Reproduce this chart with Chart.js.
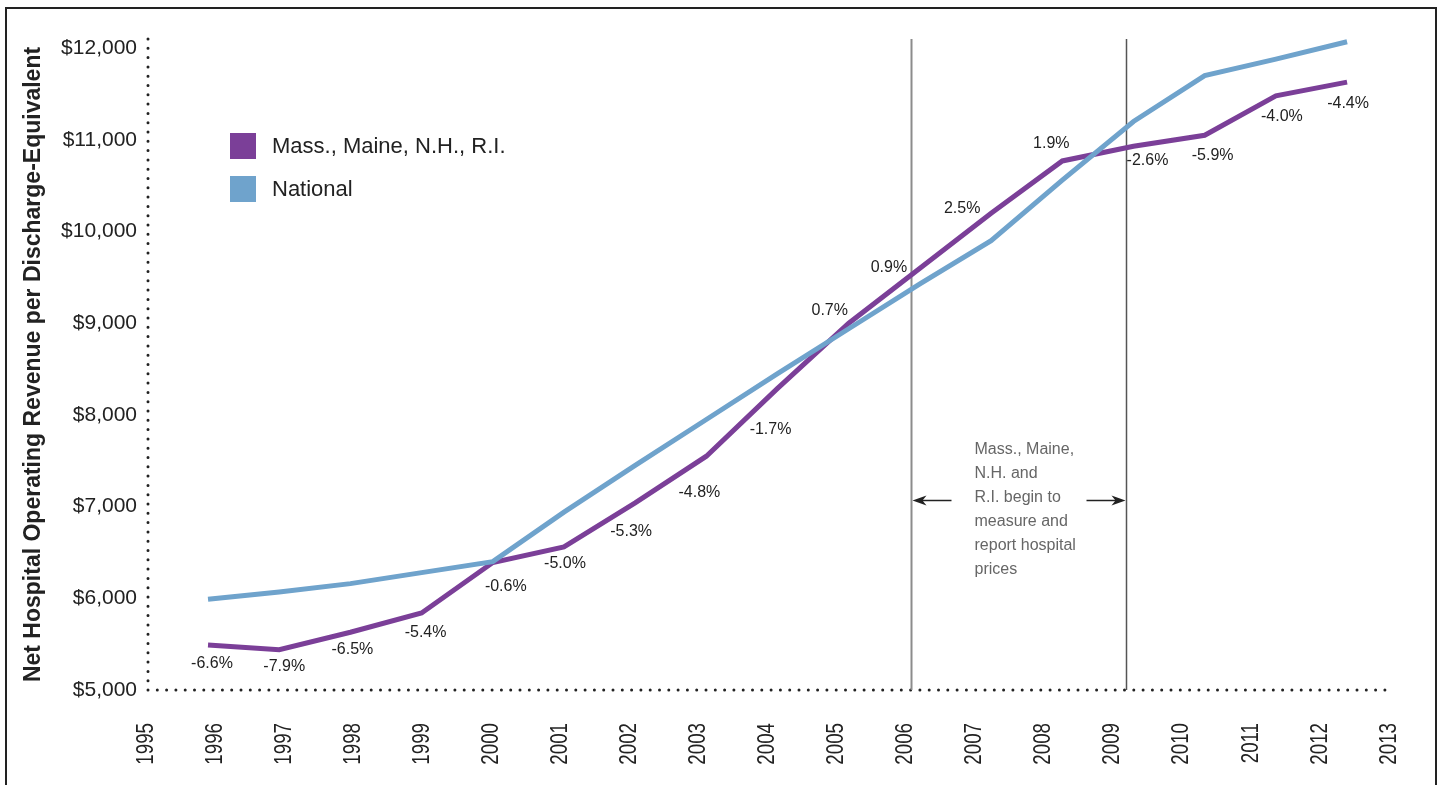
<!DOCTYPE html>
<html>
<head>
<meta charset="utf-8">
<script src="https://cdn.jsdelivr.net/npm/chart.js@4.4.1/dist/chart.umd.min.js"></script>
<style>
   html, body { margin: 0; padding: 0; background: #fff; }
   #wrap { position: relative; width: 1442px; height: 785px; overflow: hidden; }
   #frame {
      position: absolute; left: 5px; top: 7px; width: 1432px; height: 820px;
      border: 2px solid #222; box-sizing: border-box;
   }
   canvas { position: absolute; left: 0; top: 0; }
</style>
</head>
<body>
<div id="wrap">
   <div id="frame"></div>
   <canvas id="chart" width="1442" height="785"></canvas>
</div>
<script>
// data
const years = [1996, 1997, 1998, 1999, 2000, 2001, 2002, 2003, 2004, 2005, 2006, 2007, 2008, 2009, 2010, 2011, 2012];
const massMaineNhRi = [5490, 5440, 5630, 5840, 6390, 6560, 7040, 7550, 8290, 9000, 9600, 10200, 10770, 10930, 11050, 11480, 11630];
const national = [5990, 6070, 6160, 6280, 6400, 6940, 7450, 7950, 8450, 8940, 9430, 9900, 10560, 11200, 11700, 11880, 12070];
const pctGap = ["-6.6%", "-7.9%", "-6.5%", "-5.4%", "-0.6%", "-5.0%", "-5.3%", "-4.8%", "-1.7%", "0.7%", "0.9%", "2.5%", "1.9%", "-2.6%", "-5.9%", "-4.0%", "-4.4%"];
const tickYears = [1995, 1996, 1997, 1998, 1999, 2000, 2001, 2002, 2003, 2004, 2005, 2006, 2007, 2008, 2009, 2010, 2011, 2012, 2013];
const tickDollars = [5000, 6000, 7000, 8000, 9000, 10000, 11000, 12000];
const seriesNames = ["Mass., Maine, N.H., R.I.", "National"];
const markerYears = [2006.05, 2009.16];
const noteLines = ["Mass., Maine,", "N.H. and", "R.I. begin to", "measure and", "report hospital", "prices"];

// label nudges (px) relative to each purple point
const labelOffsets = [
   [4, 19], [5, 17], [2, 17], [4, 20], [13, 24], [1, 17], [-4, 29], [-7, 36], [-7, 41],
   [-19, -13], [-31, -1], [-29, -5], [-11, -17], [14, 14], [8, 20], [6, 21], [1, 21],
];

const PURPLE = "#7b3f98";
const BLUE = "#6fa3cc";
const INK = "#222";
const FONT = "'Liberation Sans', Arial, Helvetica, sans-serif";

const toPoints = (vals) => years.map((yr, i) => ({ x: yr, y: vals[i] }));

const drawArrow = (ctx, fromX, toX, y) => {
   const dir = Math.sign(toX - fromX);
   ctx.beginPath();
   ctx.moveTo(fromX, y);
   ctx.lineTo(toX - dir * 8, y);
   ctx.stroke();
   ctx.beginPath();
   ctx.moveTo(toX, y);
   ctx.lineTo(toX - dir * 14, y - 5);
   ctx.lineTo(toX - dir * 10, y);
   ctx.lineTo(toX - dir * 14, y + 5);
   ctx.closePath();
   ctx.fill();
};

const dottedLine = (ctx, x1, y1, x2, y2) => {
   ctx.save();
   ctx.strokeStyle = INK;
   ctx.lineWidth = 3;
   ctx.lineCap = "round";
   ctx.setLineDash([0, 9.3]);
   ctx.beginPath();
   ctx.moveTo(x1, y1);
   ctx.lineTo(x2, y2);
   ctx.stroke();
   ctx.restore();
};

const extras = {
   id: "extras",
   beforeDatasetsDraw(chart) {
      const { ctx, chartArea, scales } = chart;
      // dotted axis lines
      dottedLine(ctx, chartArea.left, chartArea.top, chartArea.left, chartArea.bottom);
      dottedLine(ctx, chartArea.left, chartArea.bottom, chartArea.right, chartArea.bottom);

      // vertical marker lines
      const styles = [["#8c8c8c", 2], ["#555", 1.5]];
      markerYears.forEach((yr, i) => {
         const x = Math.round(scales.x.getPixelForValue(yr)) + 0.5;
         ctx.save();
         ctx.strokeStyle = styles[i][0];
         ctx.lineWidth = styles[i][1];
         ctx.beginPath();
         ctx.moveTo(x, chartArea.top);
         ctx.lineTo(x, chartArea.bottom);
         ctx.stroke();
         ctx.restore();
      });
   },
   afterDatasetsDraw(chart) {
      const { ctx, scales, chartArea } = chart;

      // year labels, condensed and rotated
      ctx.save();
      ctx.font = `24px ${FONT}`;
      ctx.fillStyle = INK;
      ctx.textAlign = "right";
      ctx.textBaseline = "middle";
      scales.x.ticks.forEach((t) => {
         const x = scales.x.getPixelForValue(t.value) - 2;
         ctx.save();
         ctx.translate(x, chartArea.bottom + 33);
         ctx.rotate(-Math.PI / 2);
         ctx.scale(0.78, 1);
         ctx.fillText(String(t.value), 0, 0);
         ctx.restore();
      });
      ctx.restore();

      // percent labels on the regional line
      const meta = chart.getDatasetMeta(0);
      ctx.save();
      ctx.font = `16px ${FONT}`;
      ctx.fillStyle = INK;
      ctx.textAlign = "center";
      ctx.textBaseline = "middle";
      meta.data.forEach((pt, i) => {
         const [dx, dy] = labelOffsets[i];
         ctx.fillText(pctGap[i], pt.x + dx, pt.y + dy);
      });
      ctx.restore();

      // note between the marker lines
      const x1 = Math.round(scales.x.getPixelForValue(markerYears[0])) + 0.5;
      const x2 = Math.round(scales.x.getPixelForValue(markerYears[1])) + 0.5;
      const arrowY = Math.round(scales.y.getPixelForValue(7070)) + 0.5;
      ctx.save();
      ctx.strokeStyle = INK;
      ctx.fillStyle = INK;
      ctx.lineWidth = 1.5;
      drawArrow(ctx, x1 + 40, x1 + 1, arrowY);
      drawArrow(ctx, x2 - 40, x2 - 1, arrowY);
      ctx.font = `16px ${FONT}`;
      ctx.fillStyle = "#666";
      ctx.textAlign = "left";
      ctx.textBaseline = "middle";
      noteLines.forEach((line, i) => {
         ctx.fillText(line, x1 + 63, arrowY - 51 + i * 24);
      });
      ctx.restore();

      // legend
      ctx.save();
      ctx.font = `22px ${FONT}`;
      ctx.textBaseline = "middle";
      ctx.textAlign = "left";
      seriesNames.forEach((name, i) => {
         const top = 133 + i * 43;
         ctx.fillStyle = chart.data.datasets[i].borderColor;
         ctx.fillRect(230, top, 26, 26);
         ctx.fillStyle = INK;
         ctx.fillText(name, 272, top + 14);
      });
      ctx.restore();
   },
};

const init = () => {
   const data = {
      datasets: [
         {
            label: seriesNames[0],
            data: toPoints(massMaineNhRi),
            borderColor: PURPLE,
            backgroundColor: PURPLE,
            borderWidth: 5,
            order: 2,
         },
         {
            label: seriesNames[1],
            data: toPoints(national),
            borderColor: BLUE,
            backgroundColor: BLUE,
            borderWidth: 5,
            order: 1,
         },
      ],
   };

   const config = {
      type: "line",
      data: data,
      options: {
         responsive: false,
         animation: false,
         devicePixelRatio: 1,
         layout: { padding: { top: 39, right: 51, left: 0, bottom: 0 } },
         elements: {
            point: { radius: 0 },
            line: { tension: 0, borderJoinStyle: "miter", borderCapStyle: "butt" },
         },
         plugins: { legend: { display: false }, tooltip: { enabled: false } },
         scales: {
            // hidden axis that places the yearly points
            xd: {
               type: "linear",
               axis: "x",
               display: false,
               min: 1995.157,
               max: 2012.617,
            },
            // visible year axis (labels drawn by the plugin)
            x: {
               type: "linear",
               position: "bottom",
               min: 1995,
               max: 2013,
               afterBuildTicks: (scale) => {
                  scale.ticks = tickYears.map((v) => ({ value: v }));
               },
               afterFit: (scale) => {
                  scale.height = 95;
               },
               grid: { display: false, drawTicks: false },
               border: { display: false },
               ticks: { display: false, autoSkip: false },
            },
            y: {
               type: "linear",
               min: 5000,
               max: 12100,
               afterBuildTicks: (scale) => {
                  scale.ticks = tickDollars.map((v) => ({ value: v }));
               },
               afterFit: (scale) => {
                  scale.width = 148;
               },
               grid: { display: false, drawTicks: false },
               border: { display: false },
               ticks: {
                  autoSkip: false,
                  padding: 11,
                  color: INK,
                  font: { family: FONT, size: 21 },
                  callback: (v) => "$" + v.toLocaleString("en-US"),
               },
               title: {
                  display: true,
                  text: "Net Hospital Operating Revenue per Discharge-Equivalent",
                  color: INK,
                  font: { family: FONT, size: 23, weight: "bold" },
                  padding: { top: 20, bottom: 0 },
               },
            },
         },
      },
      plugins: [extras],
   };

   // both series use the hidden yearly axis
   config.data.datasets.forEach((ds) => {
      ds.xAxisID = "xd";
   });

   new Chart(document.getElementById("chart"), config);
};

init();
</script>
</body>
</html>
